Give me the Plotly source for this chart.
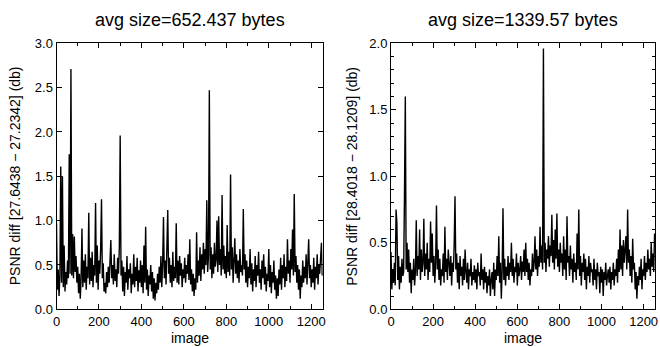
import plotly.graph_objects as go

step = 4
images = [step * k for k in range(314)]

left_diff = [
    0.97, 0.22, 0.45, 0.15, 0.38, 1.61, 0.30, 1.50, 0.25, 0.72, 0.20, 0.42, 0.28, 0.55, 0.35, 1.75, 0.40, 2.71, 0.38, 0.85,
    0.35, 0.82, 0.42, 0.60, 0.30, 0.48, 0.18, 0.40, 0.12, 0.35, 0.91, 0.25, 0.55, 0.30, 0.62, 0.22, 0.48, 0.35, 1.09, 0.28,
    0.58, 0.32, 0.65, 0.25, 0.50, 0.38, 1.20, 0.30, 0.72, 0.22, 0.55, 0.40, 0.68, 1.24, 0.35, 0.52, 0.20, 0.30, 0.18, 0.42,
    0.25, 0.48, 0.30, 0.55, 0.78, 0.35, 0.50, 0.28, 0.62, 0.32, 0.45, 0.25, 0.58, 0.40, 0.70, 1.96, 0.38, 0.55, 0.20, 0.48,
    0.15, 0.42, 0.30, 0.60, 0.22, 0.45, 0.35, 0.52, 0.18, 0.40, 0.28, 0.62, 0.25, 0.48, 0.32, 0.58, 0.20, 0.44, 0.30, 0.55,
    0.25, 0.50, 0.18, 0.72, 0.30, 0.93, 0.22, 0.45, 0.15, 0.38, 0.28, 0.50, 0.20, 0.42, 0.12, 0.35, 0.10, 0.30, 0.18, 0.40,
    0.22, 0.48, 0.30, 0.60, 0.25, 0.52, 1.04, 0.35, 0.55, 0.28, 0.62, 1.12, 0.40, 0.58, 0.30, 0.50, 0.25, 0.65, 0.32, 0.48,
    0.35, 0.97, 0.30, 0.55, 0.28, 0.60, 0.38, 0.52, 0.25, 0.45, 0.35, 0.58, 0.30, 0.50, 0.40, 0.62, 0.33, 0.79, 0.28, 0.45,
    0.20, 0.40, 0.15, 0.35, 0.22, 0.87, 0.30, 0.55, 0.38, 0.70, 0.32, 0.62, 0.45, 0.75, 0.40, 0.68, 0.50, 1.23, 0.42, 0.60,
    2.47, 0.45, 0.70, 0.35, 0.62, 0.40, 0.75, 0.48, 0.55, 1.00, 0.42, 1.05, 0.50, 0.68, 0.38, 1.29, 0.45, 0.72, 0.40, 0.60,
    0.35, 0.95, 0.42, 0.65, 0.38, 1.52, 0.45, 0.70, 0.30, 0.58, 0.80, 0.40, 0.62, 0.35, 0.55, 0.30, 0.68, 0.42, 0.50, 0.38,
    1.13, 0.45, 0.62, 0.30, 0.55, 0.25, 0.48, 0.35, 0.68, 0.28, 0.52, 0.20, 0.45, 0.32, 0.60, 0.25, 0.50, 0.38, 0.65, 0.30,
    0.45, 0.22, 0.55, 0.35, 0.62, 0.28, 0.48, 0.20, 0.40, 0.32, 0.68, 0.25, 0.50, 0.18, 0.42, 0.30, 0.55, 0.22, 0.38, 0.12,
    0.35, 0.15, 0.45, 0.28, 0.58, 0.22, 0.50, 0.35, 0.62, 0.25, 0.48, 0.32, 0.79, 0.40, 0.55, 0.30, 0.68, 0.45, 0.90, 0.38,
    1.30, 0.42, 0.60, 0.30, 0.50, 0.22, 0.45, 0.12, 0.38, 0.25, 0.55, 0.30, 0.48, 0.35, 0.62, 0.28, 0.52, 0.79, 0.35, 0.50,
    0.25, 0.45, 0.30, 0.58, 0.22, 0.48, 0.35, 0.62, 0.28, 0.50, 0.40, 0.55, 0.75, 0.38,
]

right_diff = [
    0.43, 0.15, 0.30, 0.20, 0.35, 0.18, 0.75, 0.65, 0.22, 0.40, 0.15, 0.32, 0.20, 0.38, 0.25, 0.28, 0.85, 1.60, 0.30, 0.50,
    0.28, 0.45, 0.20, 0.35, 0.12, 0.30, 0.22, 0.38, 0.18, 0.28, 0.67, 0.25, 0.40, 0.30, 0.60, 0.22, 0.45, 0.28, 0.35, 0.68,
    0.25, 0.42, 0.30, 0.50, 0.22, 0.38, 0.28, 0.66, 0.35, 0.57, 0.25, 0.40, 0.20, 0.35, 0.78, 0.30, 0.45, 0.22, 0.38, 0.18,
    0.30, 0.25, 0.42, 0.20, 0.62, 0.28, 0.38, 0.22, 0.45, 0.30, 0.25, 0.40, 0.18, 0.35, 0.28, 0.48, 0.85, 0.30, 0.42, 0.20,
    0.35, 0.15, 0.40, 0.25, 0.32, 0.18, 0.38, 0.22, 0.45, 0.28, 0.20, 0.35, 0.15, 0.30, 0.25, 0.38, 0.18, 0.28, 0.22, 0.33,
    0.20, 0.30, 0.15, 0.35, 0.25, 0.28, 0.18, 0.42, 0.22, 0.30, 0.15, 0.32, 0.20, 0.28, 0.12, 0.25, 0.18, 0.30, 0.10, 0.22,
    0.28, 0.15, 0.35, 0.10, 0.30, 0.22, 0.40, 0.25, 0.55, 0.20, 0.35, 0.08, 0.30, 0.76, 0.22, 0.38, 0.18, 0.32, 0.25, 0.40,
    0.22, 0.35, 0.28, 0.50, 0.25, 0.38, 0.20, 0.32, 0.28, 0.42, 0.18, 0.35, 0.25, 0.30, 0.40, 0.22, 0.36, 0.28, 0.45, 0.25,
    0.50, 0.28, 0.38, 0.22, 0.35, 0.18, 0.30, 0.25, 0.42, 0.28, 0.35, 0.55, 0.30, 0.45, 0.25, 0.40, 0.32, 0.62, 0.35, 0.48,
    0.30, 1.96, 0.35, 0.50, 0.28, 0.45, 0.38, 0.55, 0.32, 0.48, 0.40, 0.71, 0.35, 0.52, 0.30, 0.60, 0.38, 0.72, 0.32, 0.45,
    0.28, 0.50, 0.35, 0.42, 0.25, 0.55, 0.30, 0.45, 0.22, 0.70, 0.35, 0.40, 0.25, 0.48, 0.30, 0.38, 0.20, 0.42, 0.28, 0.35,
    0.22, 0.57, 0.30, 0.75, 0.25, 0.40, 0.18, 0.35, 0.28, 0.42, 0.22, 0.38, 0.15, 0.32, 0.25, 0.40, 0.20, 0.35, 0.28, 0.30,
    0.18, 0.38, 0.22, 0.30, 0.15, 0.35, 0.25, 0.28, 0.12, 0.32, 0.20, 0.30, 0.10, 0.28, 0.22, 0.35, 0.18, 0.25, 0.30, 0.20,
    0.32, 0.15, 0.28, 0.22, 0.35, 0.18, 0.30, 0.25, 0.38, 0.20, 0.45, 0.28, 0.60, 0.30, 0.48, 0.25, 0.52, 0.35, 0.42, 0.55,
    0.30, 0.75, 0.35, 0.45, 0.25, 0.40, 0.20, 0.53, 0.30, 0.35, 0.15, 0.28, 0.08, 0.25, 0.18, 0.32, 0.22, 0.38, 0.15, 0.30,
    0.25, 0.40, 0.22, 0.35, 0.28, 0.45, 0.30, 0.38, 0.25, 0.50, 0.32, 0.42, 0.28, 0.57,
]

titles = ["avg size=652.437 bytes", "avg size=1339.57 bytes"]
ytitles = ["PSNR diff [27.6438 \u2212 27.2342] (db)", "PSNR diff [28.4018 \u2212 28.1209] (db)"]
xtitle = "image"

W, H = 660, 347
FONT = "Liberation Sans, Arial, Helvetica, sans-serif"
TICK_SIZE = 13
LABEL_SIZE = 14
TITLE_SIZE = 18

fig = go.Figure()
fig.add_trace(go.Scatter(x=images, y=left_diff, mode="lines",
                         line=dict(color="black", width=1.4), xaxis="x", yaxis="y", showlegend=False))
fig.add_trace(go.Scatter(x=images, y=right_diff, mode="lines",
                         line=dict(color="black", width=1.4), xaxis="x2", yaxis="y2", showlegend=False))

xd1 = [56.5 / W, 322.7 / W]
xd2 = [391.0 / W, 655.0 / W]
yd = [(H - 309.3) / H, (H - 43.3) / H]

common_x = dict(range=[0, 1254], tickmode="linear", tick0=0, dtick=200,
                ticks="inside", ticklen=5, tickcolor="black", tickwidth=1,
                minor=dict(dtick=100, ticks="inside", ticklen=3, tickcolor="black"),
                showline=True, linecolor="black", linewidth=1, mirror="ticks",
                showgrid=False, zeroline=False, automargin=False,
                tickfont=dict(family=FONT, size=TICK_SIZE, color="black"))
common_y = dict(ticks="inside", ticklen=5, tickcolor="black", tickwidth=1,
                showline=True, linecolor="black", linewidth=1, mirror="ticks",
                showgrid=False, zeroline=False, tickformat=".1f", automargin=False,
                tickfont=dict(family=FONT, size=TICK_SIZE, color="black"))

fig.update_layout(
    width=W, height=H,
    margin=dict(l=0, r=0, t=0, b=0, pad=0),
    paper_bgcolor="white", plot_bgcolor="white",
    xaxis=dict(domain=xd1, anchor="y", **common_x),
    yaxis=dict(domain=yd, anchor="x", range=[0, 3.0], tickmode="linear", tick0=0, dtick=0.5, **common_y),
    xaxis2=dict(domain=xd2, anchor="y2", **common_x),
    yaxis2=dict(domain=yd, anchor="x2", range=[0, 2.0], tickmode="linear", tick0=0, dtick=0.5,
                minor=dict(dtick=0.1, ticks="inside", ticklen=3, tickcolor="black"), **common_y),
    font=dict(family=FONT, color="black"),
)

annots = []
for i, (xd, t, yt) in enumerate([(xd1, titles[0], ytitles[0]), (xd2, titles[1], ytitles[1])]):
    cx = (xd[0] + xd[1]) / 2
    annots.append(dict(text=t, x=cx, y=1 - 20 / H, xref="paper", yref="paper",
                       showarrow=False, xanchor="center", yanchor="middle",
                       font=dict(family=FONT, size=TITLE_SIZE, color="black")))
    annots.append(dict(text=xtitle, x=cx, y=1 - 338 / H, xref="paper", yref="paper",
                       showarrow=False, xanchor="center", yanchor="middle",
                       font=dict(family=FONT, size=LABEL_SIZE, color="black")))
    yx = 15 / W if i == 0 else 352.5 / W
    annots.append(dict(text=yt, x=yx, y=(yd[0] + yd[1]) / 2, xref="paper", yref="paper",
                       showarrow=False, xanchor="center", yanchor="middle", textangle=-90,
                       font=dict(family=FONT, size=LABEL_SIZE, color="black")))
fig.update_layout(annotations=annots)

fig.write_html("out.html", config={"displayModeBar": False},
               post_script="document.body.style.margin='0';document.body.style.overflow='hidden';")
